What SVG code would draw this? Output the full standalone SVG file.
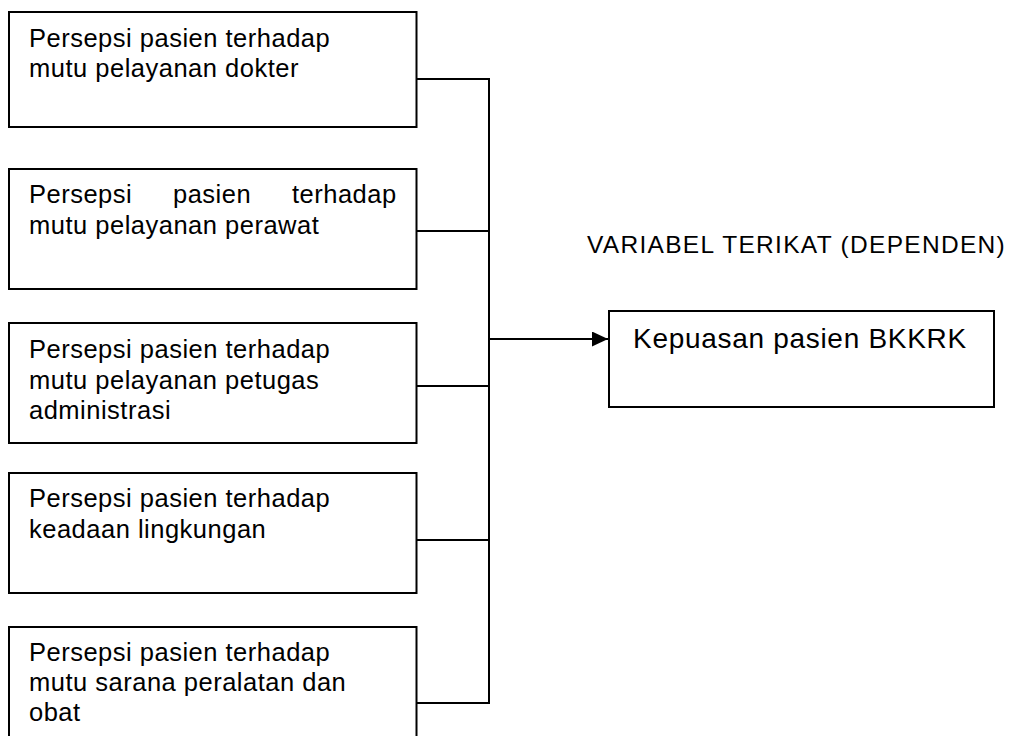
<svg xmlns="http://www.w3.org/2000/svg" width="1011" height="736" viewBox="0 0 1011 736">
<style>
.box{fill:#fff;stroke:#000;stroke-width:2}
.t{font-family:"Liberation Sans",Arial,sans-serif;font-size:25.5px;letter-spacing:0.5px;fill:#000}
.tk{font-family:"Liberation Sans",Arial,sans-serif;font-size:28px;letter-spacing:0.7px;fill:#000}
.tv{font-family:"Liberation Sans",Arial,sans-serif;font-size:24.5px;letter-spacing:1.3px;fill:#000}
.c{fill:none;stroke:#000;stroke-width:2}
</style>
<defs>
<marker id="ah" markerUnits="userSpaceOnUse" markerWidth="16" markerHeight="15" refX="16" refY="7.5" orient="auto">
<path d="M0,0 L16,7.5 L0,15 z" fill="#000"/>
</marker>
</defs>
<rect width="1011" height="736" fill="#fff"/>
<g id="connectors">
<path class="c" d="M417,79 H489 M417,231 H489 M417,386 H489 M417,540 H489 M417,703 H489 M489,78 V704"/>
<path class="c" d="M489,339 H608" stroke-width="1.7" marker-end="url(#ah)"/>
</g>
<g id="node-dokter">
<rect class="box" x="9" y="12" width="407.5" height="115"/>
<text class="t" x="29" y="46.5">Persepsi pasien terhadap</text>
<text class="t" x="29" y="77">mutu pelayanan dokter</text>
</g>
<g id="node-perawat">
<rect class="box" x="9" y="169" width="407.5" height="120"/>
<text class="t" y="203"><tspan x="29">Persepsi</tspan><tspan x="173">pasien</tspan><tspan x="292">terhadap</tspan></text>
<text class="t" x="29" y="233.5">mutu pelayanan perawat</text>
</g>
<g id="node-administrasi">
<rect class="box" x="9" y="323" width="407.5" height="120"/>
<text class="t" x="29" y="358">Persepsi pasien terhadap</text>
<text class="t" x="29" y="388.5">mutu pelayanan petugas</text>
<text class="t" x="29" y="418.5">administrasi</text>
</g>
<g id="node-lingkungan">
<rect class="box" x="9" y="473" width="407.5" height="120"/>
<text class="t" x="29" y="507">Persepsi pasien terhadap</text>
<text class="t" x="29" y="537.5">keadaan lingkungan</text>
</g>
<g id="node-sarana">
<rect class="box" x="9" y="627" width="407.5" height="130"/>
<text class="t" x="29" y="661">Persepsi pasien terhadap</text>
<text class="t" x="29" y="691">mutu sarana peralatan dan</text>
<text class="t" x="29" y="721">obat</text>
</g>
<g id="label-dependen">
<text class="tv" x="587" y="253">VARIABEL TERIKAT (DEPENDEN)</text>
</g>
<g id="node-kepuasan">
<rect class="box" x="609" y="311" width="385" height="96"/>
<text class="tk" x="633" y="348">Kepuasan pasien BKKRK</text>
</g>
</svg>
